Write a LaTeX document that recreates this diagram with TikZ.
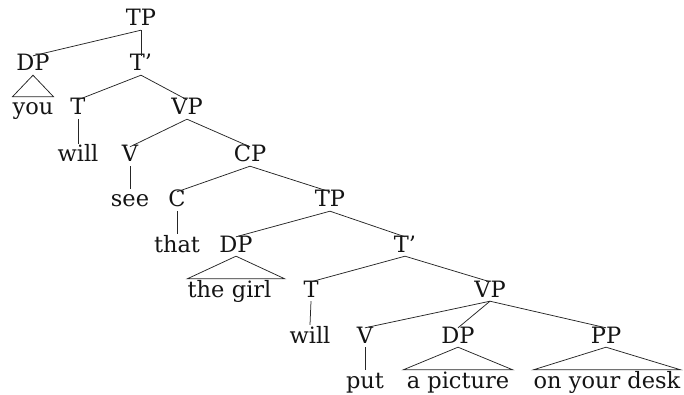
\documentclass[tikz,border=0pt]{standalone}
\usepackage{fontspec}
\setmainfont{DejaVu Serif}
\begin{document}
\begin{tikzpicture}[x=1pt,y=-1pt,
  every node/.style={font=\fontsize{22.5}{25}\selectfont, text=black!92, inner sep=0pt},
  cat/.style={anchor=base, text height=15pt, text depth=4pt},
  term/.style={anchor=base, text height=18pt, text depth=4pt},
  branch/.style={draw=black!85, line width=0.75pt}]
\useasboundingbox (0,0) rectangle (684,395);
% level 1-3
\node[cat]  (tp1)   at (141,26)  {TP};
\node[cat]  (dp1)   at (33,71)   {DP};
\node[cat]  (tb1)   at (141,71)  {T’};
\node[term] (you)   at (33,115)  {you};
\node[cat]  (t1)    at (78,115)  {T};
\node[cat]  (vp1)   at (187,115) {VP};
% level 4-5
\node[term] (will1) at (78,162)  {will};
\node[cat]  (v1)    at (130,162) {V};
\node[cat]  (cp)    at (250,162) {CP};
\node[term] (see)   at (130,207) {see};
\node[cat]  (c)     at (177,207) {C};
\node[cat]  (tp2)   at (330,207) {TP};
% level 6-7
\node[term] (that)  at (177,252) {that};
\node[cat]  (dp2)   at (236,252) {DP};
\node[cat]  (tb2)   at (405,252) {T’};
\node[term, text width=97pt, align=left] (girl) at (236,297) {the girl};
\node[cat]  (t2)    at (311,297) {T};
\node[cat]  (vp2)   at (490,297) {VP};
% level 8-9
\node[term] (will2) at (310,343) {will};
\node[cat]  (v2)    at (365,343) {V};
\node[cat]  (dp3)   at (458,343) {DP};
\node[cat]  (pp)    at (606,343) {PP};
\node[term] (put)   at (365,388) {put};
\node[term, minimum width=109pt] (pic) at (458,388) {a picture};
\node[term] (desk)  at (607,388) {on your desk};
% branches
\draw[branch] (tp1.south) -- (dp1.north);
\draw[branch] (tp1.south) -- (tb1.north);
\draw[branch] (dp1.south) -- (you.north west) -- (you.north east) -- cycle;
\draw[branch] (tb1.south) -- (t1.north);
\draw[branch] (tb1.south) -- (vp1.north);
\draw[branch] (t1.south) -- (will1.north);
\draw[branch] (vp1.south) -- (v1.north);
\draw[branch] (vp1.south) -- (cp.north);
\draw[branch] (v1.south) -- (see.north);
\draw[branch] (cp.south) -- (c.north);
\draw[branch] (cp.south) -- (tp2.north);
\draw[branch] (c.south) -- (that.north);
\draw[branch] (tp2.south) -- (dp2.north);
\draw[branch] (tp2.south) -- (tb2.north);
\draw[branch] (dp2.south) -- (girl.north west) -- (girl.north east) -- cycle;
\draw[branch] (tb2.south) -- (t2.north);
\draw[branch] (tb2.south) -- (vp2.north);
\draw[branch] (t2.south) -- (will2.north);
\draw[branch] (vp2.south) -- (v2.north);
\draw[branch] (vp2.south) -- (dp3.north);
\draw[branch] (vp2.south) -- (pp.north);
\draw[branch] (v2.south) -- (put.north);
\draw[branch] (dp3.south) -- (pic.north west) -- (pic.north east) -- cycle;
\draw[branch] (pp.south) -- (desk.north west) -- (desk.north east) -- cycle;
\end{tikzpicture}
\end{document}
